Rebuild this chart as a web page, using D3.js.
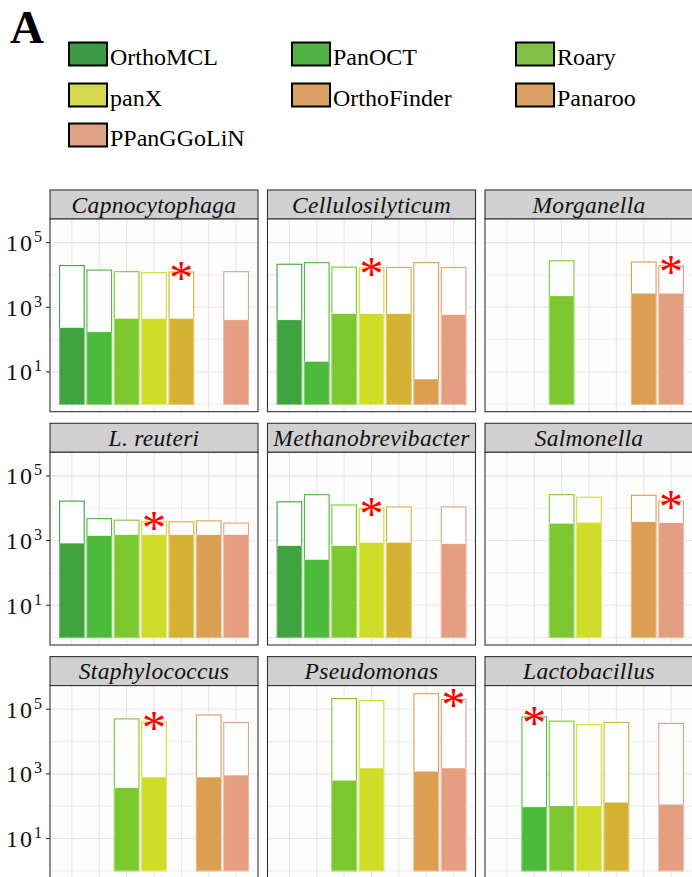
<!DOCTYPE html>
<html>
<head>
<meta charset="utf-8">
<script src="https://cdn.jsdelivr.net/npm/d3@7"></script>
<style>
  html, body { margin: 0; padding: 0; background: #ffffff; }
  svg { display: block; }
</style>
</head>
<body>
<svg id="chart" width="692" height="877"></svg>
<script>
// ---------------- data ----------------
const methods = ["OrthoMCL", "PanOCT", "Roary", "panX", "OrthoFinder", "Panaroo", "PPanGGoLiN"];
const species = ["Capnocytophaga", "Cellulosilyticum", "Morganella",
                 "L. reuteri", "Methanobrevibacter", "Salmonella",
                 "Staphylococcus", "Pseudomonas", "Lactobacillus"];
// pangenome size per species (rows) and method (columns); null = not run
const pangenomeSize = [
  [19500, 14100, 12600, 11700, 12300, null, 12600],
  [21400, 24000, 17400, 16600, 17000, 24000, 17000],
  [null, null, 27500, null, null, 25100, 19100],
  [16600, 4790, 4270, 3800, 3800, 4070, 3470],
  [15800, 26300, 12600, 10000, 11000, null, 11000],
  [null, null, 26300, 21900, null, 25100, 16600],
  [null, null, 50100, 39800, null, 66100, 38900],
  [null, null, 214000, 186000, null, 302000, 200000],
  [null, 57500, 42700, 33100, 38900, null, 36300]
];
// core genome size
const coreSize = [
  [234, 174, 447, 447, 447, null, 407],
  [407, 21, 631, 631, 631, 6, 589],
  [null, null, 2240, null, null, 2690, 2690],
  [832, 1410, 1510, 1510, 1510, 1510, 1510],
  [692, 257, 692, 871, 871, null, 794],
  [null, null, 3390, 3630, null, 3800, 3550],
  [null, null, 372, 794, null, 794, 912],
  [null, null, 631, 1510, null, 1200, 1510],
  [null, 95, 102, 102, 132, null, 115]
];
// method marked with a red asterisk in each panel
const bestMethod = ["OrthoFinder", "panX", "PPanGGoLiN", "panX", "panX",
                    "PPanGGoLiN", "panX", "PPanGGoLiN", "PanOCT"];
const yTickValues = [10, 1000, 100000];
const yTickExponents = ["1", "3", "5"];
const yMinorValues = [1, 100, 10000];

// ---------------- styles ----------------
const barColors = ["#3fa33f", "#4cba3a", "#7bc92f", "#cfdc28", "#d5b234", "#dc9e52", "#e39f80"];
const legendColors = ["#3c9a45", "#50b046", "#80c048", "#d5d84a", "#d8a062", "#d8a062", "#e0a287"];
const serif = "'Liberation Serif', 'Times New Roman', Times, serif";

const svg = d3.select("#chart");

// ---------------- title + legend ----------------
svg.append("text").attr("x", 10).attr("y", 43)
  .attr("font-family", serif).attr("font-weight", "bold").attr("font-size", 47)
  .attr("fill", "#000").text("A");

const legX = [69, 292, 516];
const legY = [54, 95, 135];
methods.forEach((m, i) => {
  const col = i % 3, row = Math.floor(i / 3);
  const g = svg.append("g").attr("transform", `translate(${legX[col]},${legY[row]})`);
  g.append("rect").attr("x", 0).attr("y", -11.5).attr("width", 38).attr("height", 23)
    .attr("fill", legendColors[i]).attr("stroke", "#000").attr("stroke-width", 2);
  g.append("text").attr("x", 41).attr("y", 10.5)
    .attr("font-family", serif).attr("font-size", 24).attr("fill", "#000").text(m);
});

// ---------------- facets ----------------
const colLeft = [50, 267.5, 485];
const panelW = 208;
const panelTop0 = 219, rowPitch = 233.3, panelH = 192.7, stripH = 29;

const x = d3.scalePoint().domain(methods).range([0, panelW]).padding(0.8);
const step = x.step();
const barW = step * 0.9;
const y = d3.scaleLog().domain([Math.pow(10, -0.23), Math.pow(10, 5.73)]).range([panelH, 0]);

species.forEach((sp, si) => {
  const col = si % 3, row = Math.floor(si / 3);
  const px = colLeft[col], py = panelTop0 + row * rowPitch;
  const g = svg.append("g").attr("transform", `translate(${px},${py})`);

  // strip
  g.append("rect").attr("x", 0).attr("y", -stripH).attr("width", panelW).attr("height", stripH)
    .attr("fill", "#d0d0d0").attr("stroke", "#333").attr("stroke-width", 1.1);
  g.append("text").attr("x", panelW / 2).attr("y", -stripH / 2 + 8)
    .attr("text-anchor", "middle").attr("font-family", serif).attr("font-style", "italic")
    .attr("font-size", 23.5).attr("letter-spacing", 0.3).attr("fill", "#111").text(sp);

  // background
  g.append("rect").attr("width", panelW).attr("height", panelH).attr("fill", "#fdfdfd");

  // grid
  const grid = g.append("g");
  grid.selectAll("line.minor").data(yMinorValues).join("line")
    .attr("x1", 0).attr("x2", panelW).attr("y1", d => y(d)).attr("y2", d => y(d))
    .attr("stroke", "#ececec").attr("stroke-width", 0.9);
  grid.selectAll("line.major").data(yTickValues).join("line")
    .attr("x1", 0).attr("x2", panelW).attr("y1", d => y(d)).attr("y2", d => y(d))
    .attr("stroke", "#e6e6e6").attr("stroke-width", 1.1);
  grid.selectAll("line.vx").data(methods).join("line")
    .attr("x1", d => x(d)).attr("x2", d => x(d)).attr("y1", 0).attr("y2", panelH)
    .attr("stroke", "#e6e6e6").attr("stroke-width", 1.1);

  // bars
  const rows = methods.map((m, mi) => ({
    m, mi, total: pangenomeSize[si][mi], core: coreSize[si][mi]
  })).filter(d => d.total != null);

  g.selectAll("rect.total").data(rows).join("rect")
    .attr("x", d => x(d.m) - barW / 2).attr("width", barW)
    .attr("y", d => y(d.total)).attr("height", d => y(1) - y(d.total))
    .attr("fill", "#ffffff").attr("stroke", d => barColors[d.mi]).attr("stroke-width", 1.1);
  g.selectAll("rect.core").data(rows).join("rect")
    .attr("x", d => x(d.m) - barW / 2).attr("width", barW)
    .attr("y", d => y(d.core)).attr("height", d => y(1) - y(d.core))
    .attr("fill", d => barColors[d.mi]).attr("stroke", "#ffffff").attr("stroke-opacity", 0.5)
    .attr("stroke-width", 0.6);

  // asterisk
  const bi = methods.indexOf(bestMethod[si]);
  const bt = pangenomeSize[si][bi];
  g.append("text").attr("x", x(bestMethod[si])).attr("y", y(bt) + 22)
    .attr("text-anchor", "middle").attr("font-family", serif).attr("font-size", 48)
    .attr("fill", "#ff0000").text("*");

  // border
  g.append("rect").attr("width", panelW).attr("height", panelH)
    .attr("fill", "none").attr("stroke", "#333").attr("stroke-width", 1.1);

  // y axis on first column
  if (col === 0) {
    const ax = g.append("g");
    yTickValues.forEach((v, k) => {
      ax.append("line").attr("x1", -4).attr("x2", 0).attr("y1", y(v)).attr("y2", y(v))
        .attr("stroke", "#333").attr("stroke-width", 1.1);
      const t = ax.append("text").attr("x", -8).attr("y", y(v) + 8.5)
        .attr("text-anchor", "end").attr("font-family", serif).attr("font-size", 24)
        .attr("fill", "#111");
      t.append("tspan").attr("letter-spacing", 2).text("10");
      t.append("tspan").attr("dy", -9).attr("font-size", 16).text(yTickExponents[k]);
    });
  }
});
</script>
</body>
</html>
